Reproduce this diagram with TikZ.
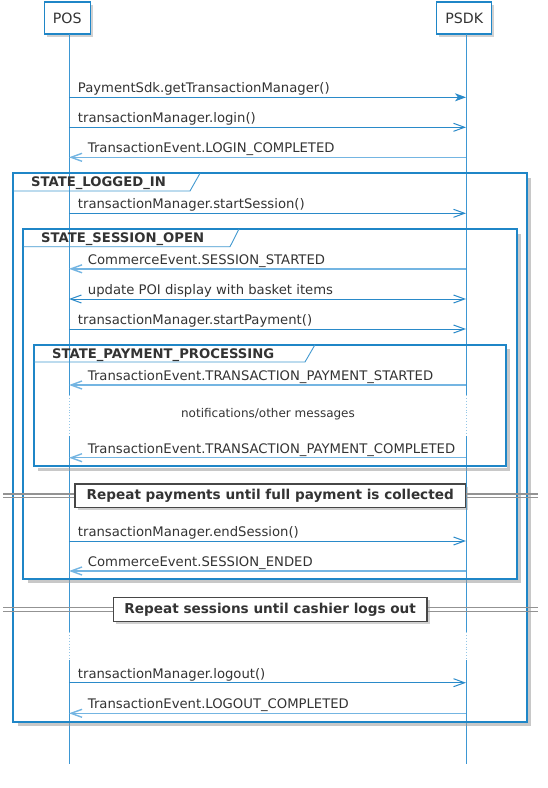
\documentclass[tikz,border=0pt]{standalone}
\usepackage{fontspec}
\setmainfont{DejaVu Sans}
\usetikzlibrary{arrows.meta,shadows}
\definecolor{lifec}{HTML}{3D97D3}
\definecolor{arrc}{HTML}{2A8AC9}
\definecolor{retc}{HTML}{74B5E2}
\definecolor{framec}{HTML}{1F86C7}
\definecolor{txtc}{HTML}{333333}
\definecolor{shadc}{HTML}{9A9A9A}
\begin{document}
\begin{tikzpicture}[x=1pt,y=-1pt,
  part/.style={draw=framec, line width=1.3pt, fill=white, minimum height=32pt, inner sep=0pt, text=txtc,
    font=\fontsize{14.2}{16}\selectfont,
    drop shadow={shadow xshift=2.5pt, shadow yshift=-2.5pt, opacity=0.45, fill=shadc}},
  life/.style={draw=lifec, line width=0.9pt},
  lifedot/.style={draw=lifec!55, line width=0.9pt, dotted},
  msgf/.style={draw=arrc, line width=1pt, -{Stealth[length=11pt,width=8pt,inset=3pt]}},
  msgo/.style={draw=arrc, line width=1pt, -{Straight Barb[length=11pt,width=8pt]}},
  msgb/.style={draw=arrc, line width=1pt, {Straight Barb[length=11pt,width=8pt]}-{Straight Barb[length=11pt,width=8pt]}},
  msgr/.style={draw=retc, line width=1.4pt, {Straight Barb[length=11pt,width=8pt]}-},
  msgt/.style={anchor=base west, inner sep=0pt, text=txtc, font=\fontsize{13.2}{15}\selectfont},
  framebox/.style={draw=framec, line width=2pt},
  frameshad/.style={draw=shadc, line width=3pt, opacity=0.55},
  tabline/.style={draw=framec!85, line width=0.9pt},
  framelab/.style={anchor=base west, inner sep=0pt, text=txtc, font=\bfseries\fontsize{13.2}{15}\selectfont},
  divline/.style={draw=gray!85, line width=1.1pt},
  divbox/.style={draw=black!72, line width=1.5pt, fill=white, inner sep=0pt, text=txtc,
    font=\bfseries\fontsize{13.6}{15}\selectfont,
    drop shadow={shadow xshift=2.5pt, shadow yshift=-2.5pt, opacity=0.45, fill=shadc}},
  notet/.style={inner sep=0pt, text=txtc, font=\fontsize{12}{14}\selectfont}
]
\useasboundingbox (0,0) rectangle (548,788);

% participants
\node[part, minimum width=46pt] (pos) at (67.2,18) {POS};
\node[part, minimum width=55pt] (psdk) at (464.2,18) {PSDK};
\coordinate (posT) at (69,34);
\coordinate (psdkT) at (466,34);

% lifelines
\draw[life] (posT) -- (posT |- 0,395);
\draw[lifedot] (posT |- 0,395) -- (posT |- 0,436);
\draw[life] (posT |- 0,436) -- (posT |- 0,632);
\draw[lifedot] (posT |- 0,632) -- (posT |- 0,660);
\draw[life] (posT |- 0,660) -- (posT |- 0,764);
\draw[life] (psdkT) -- (psdkT |- 0,395);
\draw[lifedot] (psdkT |- 0,395) -- (psdkT |- 0,436);
\draw[life] (psdkT |- 0,436) -- (psdkT |- 0,632);
\draw[lifedot] (psdkT |- 0,632) -- (psdkT |- 0,660);
\draw[life] (psdkT |- 0,660) -- (psdkT |- 0,764);

% frames
\draw[frameshad] (18,724.5) -- (529.5,724.5) -- (529.5,178);
\draw[framebox] (13.3,173.3) rectangle (527,722);
\draw[tabline] (13.3,191) -- (190,191) -- (200,173.3);
\node[framelab] (f1) at (31,186.6) {STATE\_LOGGED\_IN};

\draw[frameshad] (28,581.5) -- (519.5,581.5) -- (519.5,234);
\draw[framebox] (23.3,229) rectangle (517,579);
\draw[tabline] (23.3,246.7) -- (230,246.7) -- (239,229);
\node[framelab] (f2) at (41,242.3) {STATE\_SESSION\_OPEN};

\draw[frameshad] (38,469) -- (508.5,469) -- (508.5,349);
\draw[framebox] (33.7,344.7) rectangle (506,466.3);
\draw[tabline] (33.7,362) -- (305,362) -- (315,344.7);
\node[framelab] (f3) at (52,358) {STATE\_PAYMENT\_PROCESSING};

% messages
\draw[msgf] (posT |- 0,97.3) -- (psdkT |- 0,97.3);
\node[msgt] (t1) at (77.7,92.7) {PaymentSdk.getTransactionManager()};
\draw[msgo] (posT |- 0,127.3) -- (psdkT |- 0,127.3);
\node[msgt] (t2) at (77.7,122.7) {transactionManager.login()};
\draw[msgr] (posT |- 0,157.3) -- (psdkT |- 0,157.3);
\node[msgt] (t3) at (87.7,152.7) {TransactionEvent.LOGIN\_COMPLETED};

\draw[msgo] (posT |- 0,213.3) -- (psdkT |- 0,213.3);
\node[msgt] (t4) at (77.7,208.7) {transactionManager.startSession()};

\draw[msgr] (posT |- 0,268.8) -- (psdkT |- 0,268.8);
\node[msgt] (t5) at (87.7,264.2) {CommerceEvent.SESSION\_STARTED};
\draw[msgb] (posT |- 0,299) -- (psdkT |- 0,299);
\node[msgt] (t6) at (87.7,294.4) {update POI display with basket items};
\draw[msgo] (posT |- 0,329) -- (psdkT |- 0,329);
\node[msgt] (t7) at (77.7,324.4) {transactionManager.startPayment()};

\draw[msgr] (posT |- 0,385) -- (psdkT |- 0,385);
\node[msgt] (t8) at (87.7,380.4) {TransactionEvent.TRANSACTION\_PAYMENT\_STARTED};
\node[notet] (n1) at (268,414) {notifications/other messages};
\draw[msgr] (posT |- 0,457.7) -- (psdkT |- 0,457.7);
\node[msgt] (t9) at (87.7,453.1) {TransactionEvent.TRANSACTION\_PAYMENT\_COMPLETED};

% divider 1
\draw[divline] (3,494) -- (538,494);
\draw[divline] (3,497.6) -- (538,497.6);
\node[divbox, minimum width=390.3pt, minimum height=23.3pt] (d1) at (270.2,495.7) {Repeat payments until full payment is collected};

\draw[msgo] (posT |- 0,541) -- (psdkT |- 0,541);
\node[msgt] (t10) at (77.7,536.4) {transactionManager.endSession()};
\draw[msgr] (posT |- 0,571) -- (psdkT |- 0,571);
\node[msgt] (t11) at (87.7,566.4) {CommerceEvent.SESSION\_ENDED};

% divider 2
\draw[divline] (3,607.5) -- (538,607.5);
\draw[divline] (3,611.1) -- (538,611.1);
\node[divbox, minimum width=313.7pt, minimum height=24.4pt] (d2) at (270.2,609.5) {Repeat sessions until cashier logs out};

\draw[msgo] (posT |- 0,682.7) -- (psdkT |- 0,682.7);
\node[msgt] (t12) at (77.7,678.1) {transactionManager.logout()};
\draw[msgr] (posT |- 0,713.3) -- (psdkT |- 0,713.3);
\node[msgt] (t13) at (87.7,708.7) {TransactionEvent.LOGOUT\_COMPLETED};
\end{tikzpicture}
\end{document}
